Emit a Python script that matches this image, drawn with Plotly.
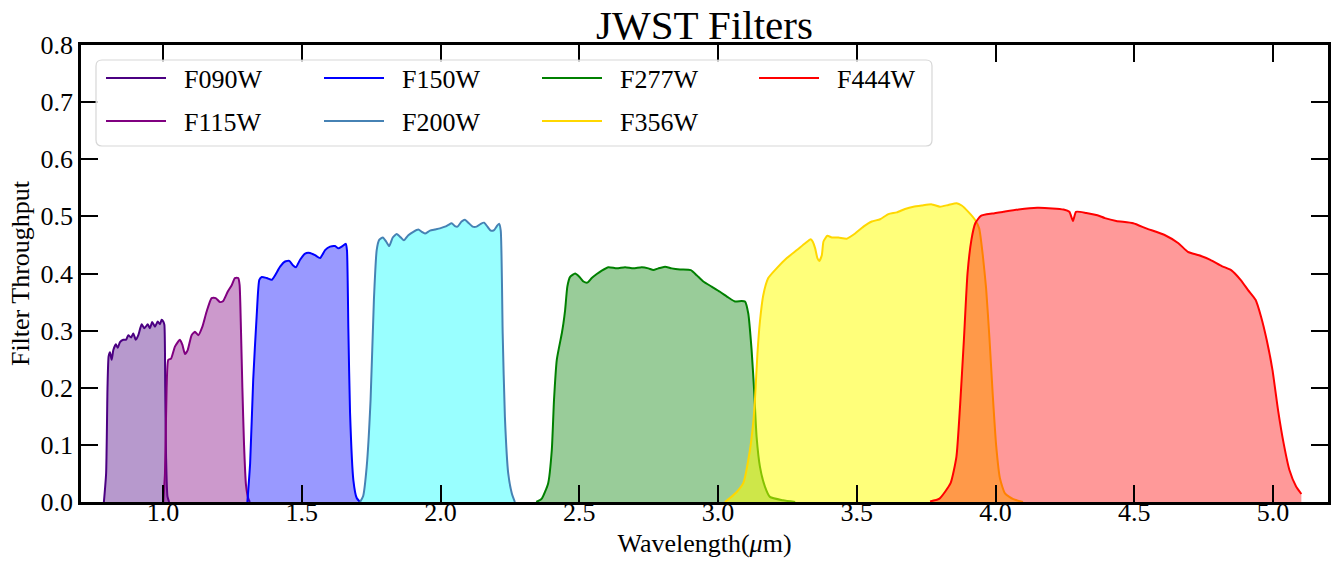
import plotly.graph_objects as go

# ---------------- data ----------------
filter_names = ["F090W", "F115W", "F150W", "F200W", "F277W", "F356W", "F444W"]

f090w_wave = [0.787, 0.795, 0.800, 0.804, 0.809, 0.815, 0.821, 0.830, 0.837, 0.845, 0.857, 0.867,
              0.875, 0.885, 0.893, 0.902, 0.911, 0.923, 0.933, 0.945, 0.953, 0.961, 0.971, 0.981,
              0.989, 0.995, 1.001, 1.005, 1.008, 1.011, 1.016, 1.022]
f090w_thru = [0.0, 0.05, 0.20, 0.255, 0.262, 0.249, 0.266, 0.276, 0.270, 0.280, 0.284, 0.284,
              0.292, 0.288, 0.295, 0.284, 0.292, 0.311, 0.304, 0.311, 0.304, 0.315, 0.307, 0.316,
              0.311, 0.319, 0.316, 0.310, 0.200, 0.080, 0.010, 0.0]

f115w_wave = [1.001, 1.007, 1.013, 1.019, 1.029, 1.043, 1.061, 1.070, 1.079, 1.089, 1.103, 1.115,
              1.127, 1.142, 1.157, 1.175, 1.190, 1.205, 1.217, 1.233, 1.248, 1.259, 1.271, 1.276,
              1.281, 1.286, 1.292, 1.299, 1.308, 1.313]
f115w_thru = [0.0, 0.05, 0.20, 0.249, 0.251, 0.272, 0.284, 0.275, 0.259, 0.266, 0.292, 0.298,
              0.292, 0.307, 0.333, 0.357, 0.357, 0.350, 0.352, 0.368, 0.380, 0.392, 0.392, 0.380,
              0.300, 0.200, 0.100, 0.030, 0.005, 0.0]

f150w_wave = [1.304, 1.314, 1.325, 1.338, 1.347, 1.356, 1.374, 1.392, 1.404, 1.422, 1.440, 1.455,
              1.467, 1.479, 1.494, 1.512, 1.530, 1.548, 1.566, 1.584, 1.602, 1.620, 1.632, 1.644,
              1.659, 1.663, 1.668, 1.674, 1.686, 1.698, 1.710]
f150w_thru = [0.0, 0.068, 0.214, 0.330, 0.389, 0.394, 0.392, 0.389, 0.397, 0.412, 0.421, 0.422,
              0.415, 0.411, 0.424, 0.435, 0.436, 0.432, 0.427, 0.441, 0.447, 0.448, 0.444, 0.447,
              0.452, 0.440, 0.301, 0.156, 0.038, 0.007, 0.0]

f200w_wave = [1.710, 1.721, 1.734, 1.748, 1.760, 1.770, 1.779, 1.792, 1.804, 1.815, 1.828, 1.842,
              1.857, 1.868, 1.884, 1.902, 1.920, 1.932, 1.944, 1.962, 1.980, 1.998, 2.016, 2.028,
              2.040, 2.052, 2.061, 2.076, 2.088, 2.100, 2.116, 2.130, 2.145, 2.157, 2.169, 2.181,
              2.193, 2.203, 2.211, 2.217, 2.224, 2.232, 2.244, 2.257, 2.268]
f200w_thru = [0.0, 0.010, 0.062, 0.179, 0.354, 0.441, 0.459, 0.463, 0.456, 0.448, 0.463, 0.469,
              0.463, 0.458, 0.467, 0.473, 0.477, 0.473, 0.470, 0.475, 0.477, 0.479, 0.482, 0.485,
              0.488, 0.483, 0.482, 0.491, 0.494, 0.489, 0.482, 0.482, 0.487, 0.489, 0.482, 0.475,
              0.476, 0.483, 0.487, 0.475, 0.295, 0.149, 0.050, 0.015, 0.0]

f277w_wave = [2.345, 2.365, 2.388, 2.401, 2.409, 2.419, 2.437, 2.443, 2.449, 2.457, 2.467, 2.485,
              2.501, 2.515, 2.529, 2.545, 2.563, 2.581, 2.605, 2.635, 2.665, 2.695, 2.725, 2.749,
              2.767, 2.785, 2.809, 2.833, 2.863, 2.902, 2.923, 2.947, 2.977, 3.007, 3.037, 3.061,
              3.085, 3.097, 3.109, 3.121, 3.130, 3.139, 3.151, 3.169, 3.187, 3.234, 3.278]
f277w_thru = [0.0, 0.006, 0.033, 0.091, 0.179, 0.249, 0.295, 0.313, 0.336, 0.377, 0.394, 0.400,
              0.394, 0.386, 0.384, 0.392, 0.399, 0.405, 0.411, 0.409, 0.411, 0.409, 0.411, 0.409,
              0.406, 0.409, 0.412, 0.409, 0.407, 0.406, 0.397, 0.386, 0.377, 0.368, 0.358, 0.351,
              0.352, 0.351, 0.330, 0.266, 0.196, 0.114, 0.062, 0.027, 0.009, 0.003, 0.0]

f356w_wave = [3.025, 3.043, 3.068, 3.091, 3.115, 3.127, 3.133, 3.142, 3.151, 3.163, 3.181, 3.211,
              3.248, 3.284, 3.314, 3.334, 3.341, 3.350, 3.358, 3.365, 3.374, 3.380, 3.394, 3.410,
              3.434, 3.464, 3.494, 3.524, 3.554, 3.584, 3.614, 3.644, 3.674, 3.704, 3.734, 3.770,
              3.800, 3.830, 3.860, 3.878, 3.902, 3.926, 3.941, 3.954, 3.966, 3.978, 3.990, 4.002,
              4.016, 4.034, 4.064, 4.099]
f356w_thru = [0.0, 0.007, 0.018, 0.033, 0.091, 0.140, 0.179, 0.260, 0.316, 0.362, 0.392, 0.409,
              0.427, 0.441, 0.453, 0.460, 0.456, 0.444, 0.427, 0.422, 0.432, 0.456, 0.466, 0.463,
              0.463, 0.461, 0.470, 0.482, 0.491, 0.495, 0.504, 0.507, 0.513, 0.517, 0.519, 0.521,
              0.517, 0.520, 0.523, 0.519, 0.508, 0.494, 0.479, 0.432, 0.374, 0.287, 0.187, 0.100,
              0.041, 0.015, 0.005, 0.0]

f444w_wave = [3.764, 3.798, 3.838, 3.859, 3.872, 3.886, 3.899, 3.913, 3.927, 3.947, 3.988, 4.028,
              4.083, 4.150, 4.205, 4.245, 4.266, 4.279, 4.290, 4.327, 4.367, 4.394, 4.435, 4.496,
              4.543, 4.611, 4.659, 4.693, 4.733, 4.774, 4.815, 4.849, 4.883, 4.910, 4.937, 4.957,
              4.977, 4.998, 5.018, 5.038, 5.059, 5.083, 5.102]
f444w_thru = [0.001, 0.006, 0.033, 0.079, 0.167, 0.284, 0.400, 0.459, 0.488, 0.501, 0.505, 0.508,
              0.512, 0.515, 0.514, 0.512, 0.508, 0.492, 0.508, 0.506, 0.502, 0.497, 0.492, 0.488,
              0.479, 0.467, 0.453, 0.438, 0.432, 0.424, 0.413, 0.406, 0.389, 0.371, 0.354, 0.324,
              0.284, 0.231, 0.161, 0.103, 0.056, 0.027, 0.014]

waves = [f090w_wave, f115w_wave, f150w_wave, f200w_wave, f277w_wave, f356w_wave, f444w_wave]
thrus = [f090w_thru, f115w_thru, f150w_thru, f200w_thru, f277w_thru, f356w_thru, f444w_thru]

line_colors = ["#4B0082", "#800080", "#0000FF", "#4682B4", "#008000", "#FFD700", "#FF0000"]
fill_colors = ["rgba(75,0,130,0.4)", "rgba(128,0,128,0.4)", "rgba(0,0,255,0.4)",
               "rgba(0,255,255,0.4)", "rgba(0,128,0,0.4)", "rgba(255,255,0,0.52)",
               "rgba(255,0,0,0.4)"]

x_ticks = [1.0, 1.5, 2.0, 2.5, 3.0, 3.5, 4.0, 4.5, 5.0]
y_ticks = [0.0, 0.1, 0.2, 0.3, 0.4, 0.5, 0.6, 0.7, 0.8]

# legend layout: 4 columns x 2 rows, column-major order
legend_cols = [0, 0, 1, 1, 2, 2, 3]
legend_rows = [0, 1, 0, 1, 0, 1, 0]

FONT = "Liberation Serif, Times New Roman, serif"
W, H = 1336, 564
ML, MR, MT, MB = 81, 8, 45, 62
PW, PH = W - ML - MR, H - MT - MB

fig = go.Figure()

for i, name in enumerate(filter_names):
    fig.add_trace(go.Scatter(x=waves[i], y=thrus[i], mode="lines", fill="tozeroy",
                             fillcolor=fill_colors[i],
                             line=dict(width=0, color=line_colors[i], shape="spline", smoothing=0.5),
                             showlegend=False, hoverinfo="skip"))
    lg = "legend" if i == 0 else f"legend{i + 1}"
    fig.add_trace(go.Scatter(x=waves[i], y=thrus[i], mode="lines", name="\u00a0\u00a0" + name,
                             line=dict(width=2, color=line_colors[i], shape="spline", smoothing=0.5),
                             legend=lg))

# legends, one per entry so that the 4x2 grid can be placed exactly
col_px = [105, 323, 541, 758]   # left end of line sample (px)
row_px = [78, 121]              # vertical centre of row (px)
layout_legends = {}
for i, name in enumerate(filter_names):
    lg = "legend" if i == 0 else f"legend{i + 1}"
    xpx = col_px[legend_cols[i]] - 4
    ypx = row_px[legend_rows[i]]
    layout_legends[lg] = dict(
        x=(xpx - ML) / PW, y=(H - MB - ypx) / PH, xanchor="left", yanchor="middle",
        xref="paper", yref="paper", bgcolor="rgba(0,0,0,0)", borderwidth=0,
        font=dict(family=FONT, size=26, color="black"), itemwidth=60)

# legend frame (rounded rectangle)
x0p, x1p, y0p, y1p = 96, 932, 60, 146
r = 6
def px2x(p):
    return (p - ML) / PW
def px2y(p):
    return (H - MB - p) / PH
path = (f"M{px2x(x0p + r)},{px2y(y0p)} L{px2x(x1p - r)},{px2y(y0p)} "
        f"Q{px2x(x1p)},{px2y(y0p)} {px2x(x1p)},{px2y(y0p + r)} "
        f"L{px2x(x1p)},{px2y(y1p - r)} Q{px2x(x1p)},{px2y(y1p)} {px2x(x1p - r)},{px2y(y1p)} "
        f"L{px2x(x0p + r)},{px2y(y1p)} Q{px2x(x0p)},{px2y(y1p)} {px2x(x0p)},{px2y(y1p - r)} "
        f"L{px2x(x0p)},{px2y(y0p + r)} Q{px2x(x0p)},{px2y(y0p)} {px2x(x0p + r)},{px2y(y0p)} Z")
fig.add_shape(type="path", path=path, xref="paper", yref="paper", layer="above",
              fillcolor="rgba(255,255,255,0.8)", line=dict(color="rgba(204,204,204,0.8)", width=1.2))

axis_common = dict(showline=True, linewidth=2.5, linecolor="black", mirror="ticks",
                   ticks="inside", ticklen=17, tickwidth=2, tickcolor="black",
                   showgrid=False, zeroline=False, automargin=False,
                   tickfont=dict(family=FONT, size=26, color="black"))

fig.update_layout(
    width=W, height=H,
    margin=dict(l=ML, r=MR, t=MT, b=MB, autoexpand=False),
    paper_bgcolor="white", plot_bgcolor="white",
    title=dict(text="JWST Filters", x=(ML + PW / 2) / W, xanchor="center",
               y=0.957, yanchor="middle", yref="container",
               font=dict(family=FONT, size=41, color="black")),
    xaxis=dict(range=[0.7045, 5.198], tickvals=x_ticks, ticktext=[f"{v:.1f}" for v in x_ticks],
               ticklabelstandoff=-15,
               title=dict(text="Wavelength(<i>μ</i>m)", standoff=8,
                          font=dict(family=FONT, size=26, color="black")),
               **axis_common),
    yaxis=dict(range=[0, 0.8], tickvals=y_ticks, ticktext=[f"{v:.1f}" for v in y_ticks],
               ticklabelstandoff=0,
               title=dict(text="Filter Throughput", standoff=4,
                          font=dict(family=FONT, size=26, color="black")),
               **axis_common),
    **layout_legends,
)

fig.write_html("out.html", config={"displayModeBar": False},
               post_script="document.body.style.margin='0px';")
